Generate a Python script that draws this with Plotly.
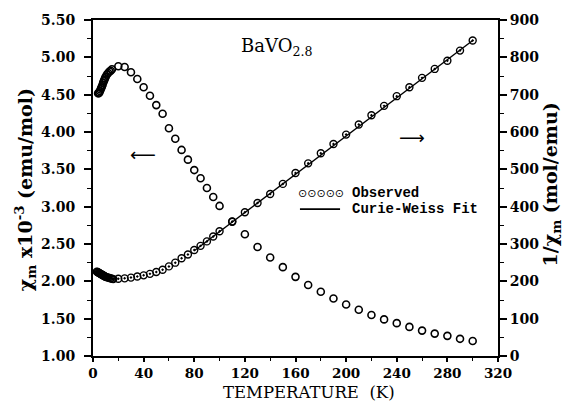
import plotly.graph_objects as go

# chi_m (x10^-3 emu/mol), left axis
chi_T = [4, 4.5, 5, 5.5, 6, 6.5, 7, 7.5, 8, 8.5, 9, 9.5, 10, 11, 12, 13, 14, 15,
         20, 25, 30, 35, 40, 45, 50, 55, 60, 65, 70, 75, 80, 85, 90, 95, 100,
         110, 120, 130, 140, 150, 160, 170, 180, 190, 200, 210, 220, 230, 240,
         250, 260, 270, 280, 290, 300]
chi_val = [4.52, 4.52, 4.53, 4.55, 4.57, 4.59, 4.61, 4.63, 4.66, 4.68, 4.70, 4.72,
           4.74, 4.77, 4.79, 4.81, 4.82, 4.84,
           4.88, 4.87, 4.80, 4.71, 4.60, 4.485, 4.36, 4.245, 4.05, 3.91, 3.76,
           3.63, 3.49, 3.38, 3.25, 3.13, 3.01,
           2.80, 2.63, 2.46, 2.32, 2.19, 2.06, 1.95, 1.86, 1.77, 1.69, 1.62, 1.55,
           1.49, 1.44, 1.39, 1.34, 1.30, 1.27, 1.23, 1.20]

# 1/chi_m (mol/emu), right axis
inv_T = [3, 3.5, 4, 4.5, 5, 5.5, 6, 6.5, 7, 7.5, 8, 8.5, 9, 9.5, 10, 11, 12, 13, 14, 15, 16,
         20, 25, 30, 35, 40, 45, 50, 55, 60, 65, 70, 75, 80, 85, 90, 95, 100,
         110, 120, 130, 140, 150, 160, 170, 180, 190, 200, 210, 220, 230, 240,
         250, 260, 270, 280, 290, 300]
inv_val = [226, 225, 224, 223, 222, 221, 220, 219, 218, 217, 216, 215, 214, 213, 212,
           211, 210, 209, 208, 207, 206,
           207, 208, 210, 213, 216, 220, 225, 231, 240, 250, 262, 272, 284, 295,
           307, 320, 334,
           360, 385, 410, 434, 461, 490, 516, 543, 568, 593, 620, 645, 670, 696,
           720, 745, 769, 791, 818, 845]

# Curie-Weiss fit line
fit_T = [80, 300]
fit_inv = [282, 845]

fig = go.Figure()
fig.add_trace(go.Scatter(x=chi_T, y=chi_val, mode="markers", yaxis="y",
                         marker=dict(symbol="circle-open", size=7, color="black",
                                     line=dict(width=1.6, color="black")),
                         showlegend=False))
fig.add_trace(go.Scatter(x=fit_T, y=fit_inv, mode="lines", yaxis="y2",
                         line=dict(color="black", width=1.4), showlegend=False))
fig.add_trace(go.Scatter(x=inv_T, y=inv_val, mode="markers", yaxis="y2",
                         marker=dict(symbol="circle-open-dot", size=7, color="black",
                                     line=dict(width=1.4, color="black")),
                         showlegend=False))

tickfont = dict(family="DejaVu Serif", size=14, color="black", weight="bold")
axcommon = dict(showgrid=False, zeroline=False, showline=True, linecolor="black",
                linewidth=2, ticks="outside", tickwidth=1.5, tickcolor="black")

fig.update_layout(
    width=565, height=404,
    margin=dict(l=93, r=67, t=20, b=48),
    paper_bgcolor="white", plot_bgcolor="white",
    font=dict(family="DejaVu Serif", color="black"),
    xaxis=dict(range=[0, 320], dtick=40, tick0=0, mirror=True, ticklen=4,
               tickfont=dict(tickfont, size=13.5),
               minor=dict(dtick=20, ticks="outside", ticklen=3, tickcolor="black", tickwidth=1.2),
               **axcommon),
    yaxis=dict(range=[1, 5.5], dtick=0.5, tick0=1, tickformat=".2f",
               ticklabelstandoff=6, ticklen=7, tickfont=tickfont,
               minor=dict(dtick=0.25, ticks="outside", ticklen=4, tickcolor="black", tickwidth=1.2),
               **axcommon),
    yaxis2=dict(range=[0, 900], dtick=100, tick0=0, overlaying="y", side="right", ticklen=7,
                tickfont=tickfont,
                minor=dict(dtick=50, ticks="outside", ticklen=4, tickcolor="black", tickwidth=1.2),
                **axcommon),
)

ann = [
    dict(text="TEMPERATURE  (K)", x=0.533, y=-0.143, yanchor="bottom", font=dict(size=16.5)),
    dict(text="<b>χ<sub>m</sub> x10<sup>-3</sup> (emu/mol)</b>", x=-0.168, y=0.496,
         textangle=-90, font=dict(size=19)),
    dict(text="<b>1/χ<sub>m</sub> (mol/emu)</b>", x=1.133, y=0.51,
         textangle=-90, font=dict(size=19)),
    dict(text="BaVO<sub>2.8</sub>", x=0.454, y=0.92, font=dict(size=18)),
    dict(text="⟵", x=0.123, y=0.60, font=dict(family="DejaVu Sans", size=18)),
    dict(text="⟶", x=0.788, y=0.65, font=dict(family="DejaVu Sans", size=18)),
    dict(text="⊙⊙⊙⊙⊙", x=0.50, y=0.484, xanchor="left",
         font=dict(family="DejaVu Sans", size=11)),
    dict(text="<b>Observed</b>", x=0.635, y=0.484, xanchor="left",
         font=dict(family="Liberation Mono", size=14)),
    dict(text="<b>Curie-Weiss Fit</b>", x=0.635, y=0.437, xanchor="left",
         font=dict(family="Liberation Mono", size=14)),
]
for a in ann:
    a.update(xref="paper", yref="paper", showarrow=False)
    a.setdefault("xanchor", "center")
    a.setdefault("yanchor", "middle")
    a["font"].setdefault("family", "DejaVu Serif")
    a["font"]["color"] = "black"
fig.update_layout(annotations=ann)

fig.add_shape(type="line", xref="paper", yref="paper", x0=0.511, x1=0.61,
              y0=0.437, y1=0.437, line=dict(color="black", width=1.6))

fig.write_html("out.html")
